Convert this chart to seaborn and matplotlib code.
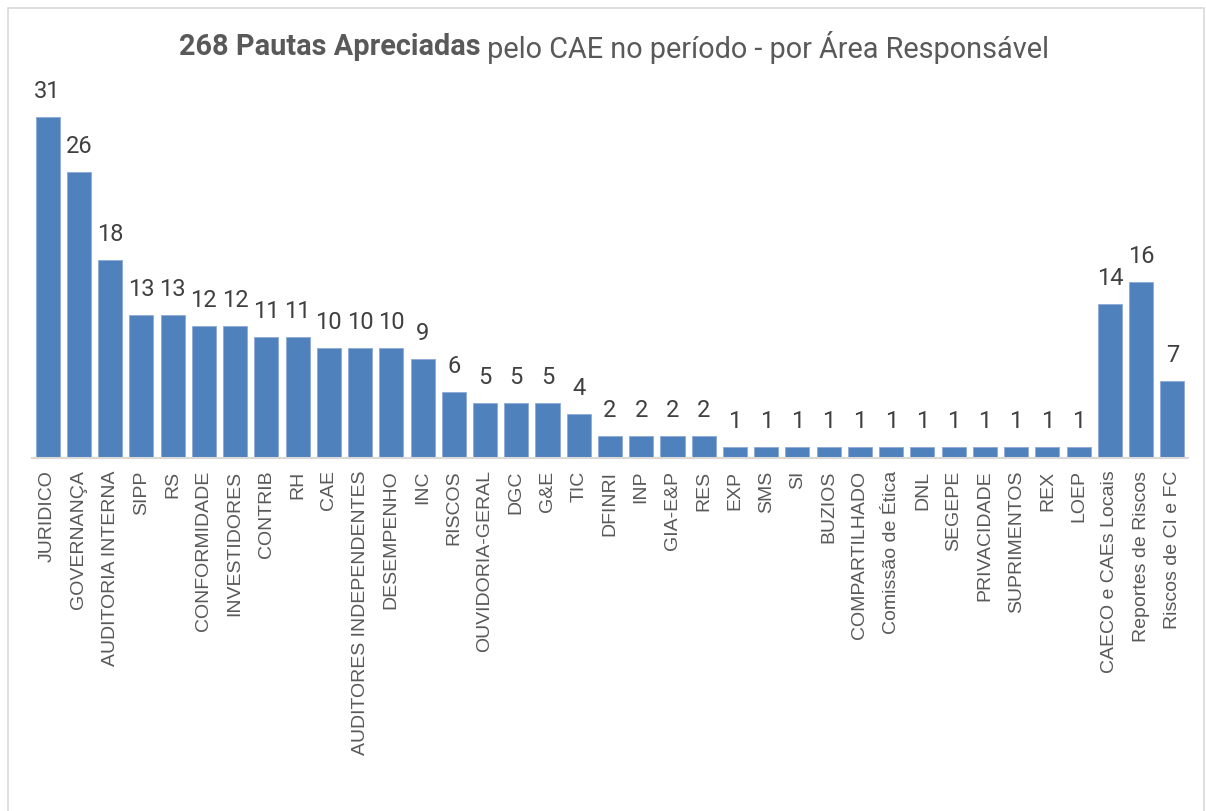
import pandas as pd
import seaborn as sns
import matplotlib.pyplot as plt
from matplotlib.patches import Rectangle

areas = [
    "JURIDICO", "GOVERNANÇA", "AUDITORIA INTERNA", "SIPP", "RS",
    "CONFORMIDADE", "INVESTIDORES", "CONTRIB", "RH", "CAE",
    "AUDITORES INDEPENDENTES", "DESEMPENHO", "INC", "RISCOS",
    "OUVIDORIA-GERAL", "DGC", "G&E", "TIC", "DFINRI", "INP", "GIA-E&P",
    "RES", "EXP", "SMS", "SI", "BUZIOS", "COMPARTILHADO",
    "Comissão de Ética", "DNL", "SEGEPE", "PRIVACIDADE", "SUPRIMENTOS",
    "REX", "LOEP", "CAECO e CAEs Locais", "Reportes de Riscos",
    "Riscos de CI e FC",
]
pautas = [
    31, 26, 18, 13, 13, 12, 12, 11, 11, 10, 10, 10, 9, 6, 5, 5, 5, 4,
    2, 2, 2, 2, 1, 1, 1, 1, 1, 1, 1, 1, 1, 1, 1, 1, 14, 16, 7,
]

df = pd.DataFrame({"area": areas, "pautas": pautas})

sns.set_style("white")
plt.rcParams["font.family"] = ["Liberation Sans", "DejaVu Sans"]

W, H = 1206, 811
fig = plt.figure(figsize=(W / 100, H / 100), dpi=100)
ax = fig.add_axes([32 / W, (H - 458) / H, (1188 - 32) / W, 374 / H])

sns.barplot(data=df, x="area", y="pautas", color="#4F81BD", saturation=1,
            width=0.77, edgecolor="#8EA9D6", linewidth=0.6, ax=ax)

ax.set_ylim(0, 34)
ax.set_xlim(-0.5, len(areas) - 0.5)
ax.set_xlabel("")
ax.set_ylabel("")
ax.set_yticks([])
for s in ["top", "left", "right"]:
    ax.spines[s].set_visible(False)
ax.spines["bottom"].set_color("#D9D9D9")
ax.spines["bottom"].set_linewidth(1.5)
ax.tick_params(axis="x", length=0, pad=9)
plt.setp(ax.get_xticklabels(), rotation=90, fontsize=14, color="#595959",
         family="Liberation Sans")

ax.bar_label(ax.containers[0], padding=10, fontsize=17, color="#404040",
             family="Roboto")

# title: bold part + regular part, centred together
renderer = fig.canvas.get_renderer()
t1 = fig.text(0, 1 - 47 / H, "268 Pautas Apreciadas", fontsize=20.8,
              fontweight="bold", family="Roboto", color="#595959", va="center")
t2 = fig.text(0, 1 - 47 / H, " pelo CAE no período - por Área Responsável",
              fontsize=20.8, family="Roboto", color="#595959", va="center")
w1 = t1.get_window_extent(renderer).width
w2 = t2.get_window_extent(renderer).width
x0 = 614 - (w1 + w2) / 2
t1.set_x(x0 / W)
t2.set_x((x0 + w1) / W)

fig.patches.append(Rectangle((8 / W, -0.02), (1204 - 8) / W, 1.02 - 8 / H,
                             transform=fig.transFigure, fill=False,
                             edgecolor="#D9D9D9", linewidth=1.2))

fig.savefig("out.png", dpi=100)
